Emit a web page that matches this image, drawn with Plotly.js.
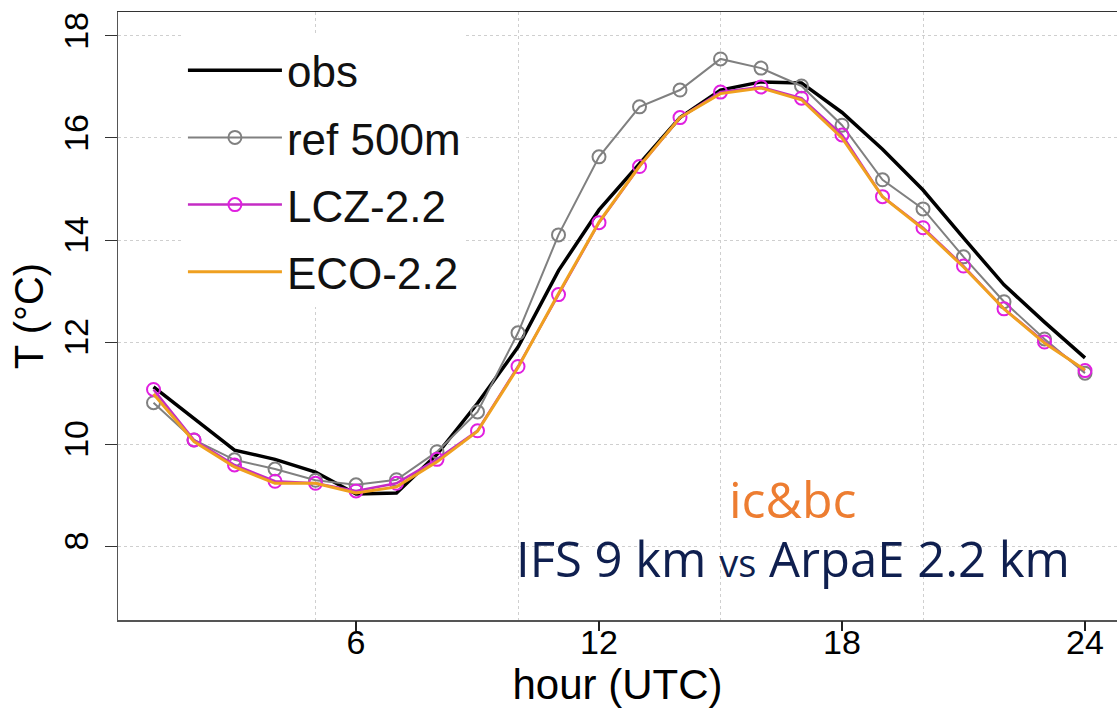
<!DOCTYPE html>
<html>
<head>
<meta charset="utf-8">
<script src="https://cdn.plot.ly/plotly-3.0.1.min.js"></script>
<style>
html,body{margin:0;padding:0;background:#fff;}
#chart{width:1117px;height:711px;}
</style>
</head>
<body>
<div id="chart"></div>
<script>
// hours (UTC)
var hours = [1,2,3,4,5,6,7,8,9,10,11,12,13,14,15,16,17,18,19,20,21,22,23,24];
// observed temperature
var obs    = [11.12,10.50,9.88,9.70,9.45,9.02,9.04,9.80,10.80,11.90,13.40,14.59,15.50,16.40,16.94,17.10,17.08,16.50,15.78,14.98,14.04,13.12,12.39,11.69];
// ref 500m run
var ref500 = [10.81,10.08,9.69,9.51,9.29,9.20,9.30,9.85,10.63,12.18,14.10,15.63,16.61,16.94,17.55,17.37,17.02,16.25,15.18,14.61,13.67,12.79,12.06,11.39];
// LCZ-2.2 run
var lcz22  = [11.07,10.08,9.59,9.27,9.23,9.08,9.23,9.70,10.26,11.52,12.93,14.34,15.44,16.40,16.90,17.00,16.78,16.06,14.85,14.24,13.49,12.65,12.00,11.44];
// ECO-2.2 run
var eco22  = [10.98,10.05,9.55,9.23,9.23,9.04,9.16,9.65,10.25,11.50,12.95,14.35,15.45,16.40,16.87,16.98,16.75,16.00,14.85,14.22,13.47,12.65,11.98,11.45];

var xTicks = [6,12,18,24];
var yTicks = [8,10,12,14,16,18];

var traces = [
  {x:hours, y:obs, name:'obs', type:'scatter', mode:'lines', legendgroup:'a',
   line:{color:'#000000', width:3.5}},
  {x:hours, y:ref500, name:'ref 500m', type:'scatter', mode:'lines+markers', legendgroup:'b',
   line:{color:'#808080', width:2},
   marker:{symbol:'circle-open', size:13, color:'#808080', line:{width:2, color:'#808080'}}},
  {x:hours, y:lcz22, name:'LCZ-2.2', type:'scatter', mode:'lines+markers', legendgroup:'c',
   line:{color:'#c42cc4', width:2.5},
   marker:{symbol:'circle-open', size:13, color:'#e020e0', line:{width:2, color:'#e020e0'}}},
  {x:hours, y:eco22, name:'ECO-2.2', type:'scatter', mode:'lines', legendgroup:'d',
   line:{color:'#efa020', width:3}},
  // invisible carriers for the helper axes (top frame + vertical grid, bottom tick marks)
  {x:hours, y:obs, xaxis:'x2', yaxis:'y', type:'scatter', mode:'lines', showlegend:false,
   hoverinfo:'skip', opacity:0, line:{width:0}},
  {x:hours, y:obs, xaxis:'x3', yaxis:'y', type:'scatter', mode:'lines', showlegend:false,
   hoverinfo:'skip', opacity:0, line:{width:0}}
];

var xRange = [0.123,24.79];

var layout = {
  width:1117, height:711,
  margin:{l:118, r:0, t:12, b:91},
  paper_bgcolor:'#ffffff', plot_bgcolor:'#ffffff',
  font:{family:'"Liberation Sans", Arial, sans-serif', color:'#000'},
  showlegend:true,
  legend:{x:0.065, y:0.962, xanchor:'left', yanchor:'top', bgcolor:'#ffffff',
    font:{size:44, color:'#111'}, itemwidth:94, tracegroupgap:7,
    traceorder:'grouped'},
  xaxis:{range:xRange, tickmode:'array', tickvals:xTicks, ticktext:xTicks.map(String),
    showgrid:false, zeroline:false, showline:true, linecolor:'#555', linewidth:1.5,
    ticks:'', ticklabelstandoff:-8, tickfont:{size:34},
    title:{text:'hour (UTC)', font:{size:42}, standoff:8}},
  xaxis2:{overlaying:'x', side:'top', anchor:'y', range:xRange, tickmode:'linear', tick0:0, dtick:5,
    showgrid:true, gridcolor:'#cfcfcf', griddash:'dot', gridwidth:1,
    showticklabels:false, ticks:'', zeroline:false, showline:true, linecolor:'#333', linewidth:1.5},
  xaxis3:{overlaying:'x', side:'bottom', anchor:'y', range:xRange, tickmode:'array', tickvals:xTicks,
    showgrid:false, showticklabels:false, ticks:'outside', ticklen:10, tickcolor:'#222', tickwidth:1.5,
    zeroline:false, showline:false},
  yaxis:{range:[6.55,18.47], tickmode:'array', tickvals:yTicks, ticktext:yTicks.map(String),
    tickangle:-90, showgrid:true, gridcolor:'#cfcfcf', griddash:'dot', gridwidth:1,
    zeroline:false, showline:true, linecolor:'#555', linewidth:1.5,
    ticks:'outside', ticklen:12, tickcolor:'#333', tickwidth:1, ticklabelstandoff:3,
    tickfont:{size:34}, title:{text:'T (°C)', font:{size:40}, standoff:1}},
  annotations:[
    {xref:'paper', yref:'paper', x:0.6757, y:0.199, xanchor:'center', yanchor:'middle',
     text:'ic&amp;bc', showarrow:false,
     font:{family:'"Open Sans", sans-serif', size:50, color:'#ed7d31'}},
    {xref:'paper', yref:'paper', x:0.6757, y:0.102, xanchor:'center', yanchor:'middle',
     text:'IFS 9 km <span style="font-size:38px">vs</span> ArpaE 2.2 km', showarrow:false,
     font:{family:'"Open Sans", sans-serif', size:49, color:'#0f1f4f'}}
  ]
};

Plotly.newPlot('chart', traces, layout, {displayModeBar:false, staticPlot:true});
</script>
</body>
</html>
